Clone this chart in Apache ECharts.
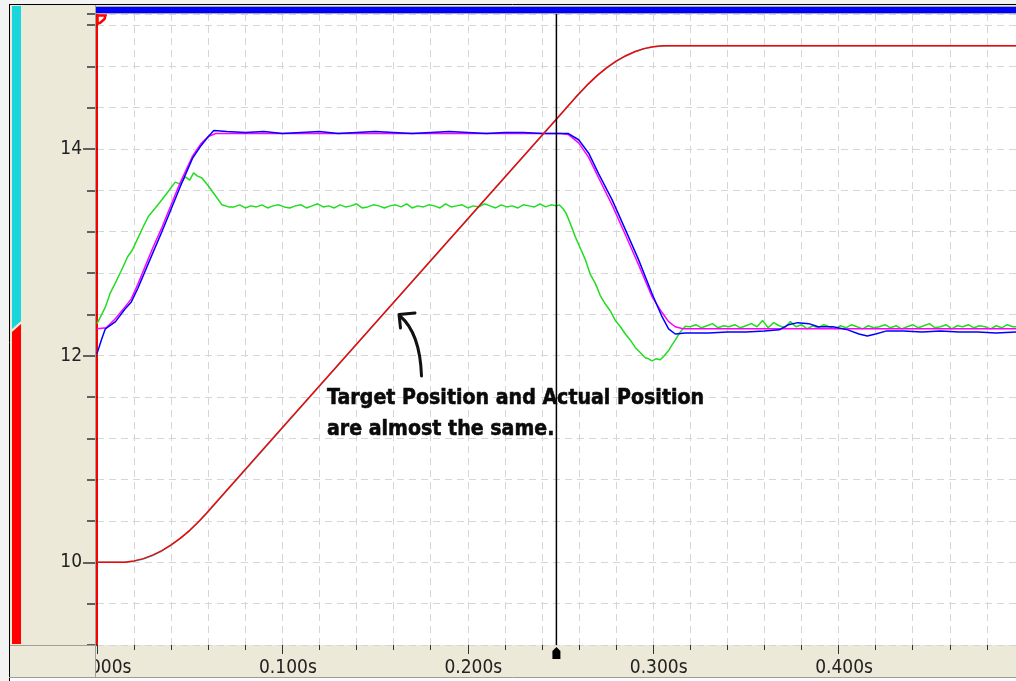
<!DOCTYPE html>
<html>
<head>
<meta charset="utf-8">
<script src="https://cdn.jsdelivr.net/npm/echarts@6/dist/echarts.min.js"></script>
<style>
  html, body { margin: 0; padding: 0; background: #f3f3f3; }
  #chart { width: 1016px; height: 681px; }
</style>
</head>
<body>
<div id="chart"></div>
<script>
// ---- axis labels ----
const xTickLabels = [0, 0.1, 0.2, 0.3, 0.4];
const yTickLabels = [10, 12, 14];
const cursorTime = 0.2478;

// ---- target position (red) ----
const targetT = [0, 0.010, 0.015, 0.020, 0.025, 0.030, 0.035, 0.040, 0.045, 0.050,
  0.055, 0.059, 0.100, 0.150, 0.200, 0.250, 0.2594, 0.265, 0.270, 0.275,
  0.280, 0.285, 0.290, 0.295, 0.300, 0.305, 0.310, 0.496];
const targetPos = [10.000, 10.000, 10.002, 10.014, 10.036, 10.070, 10.114, 10.169, 10.234, 10.310,
  10.398, 10.475, 11.305, 12.315, 13.325, 14.335, 14.525, 14.631, 14.715, 14.788,
  14.850, 14.901, 14.942, 14.972, 14.991, 14.999, 15.000, 15.000];
// ---- actual position (cyan), same sample times ----
const actualPos = [10.000, 10.000, 10.001, 10.010, 10.032, 10.066, 10.110, 10.166, 10.231, 10.306,
  10.394, 10.471, 11.300, 12.311, 13.321, 14.331, 14.522, 14.628, 14.712, 14.786,
  14.848, 14.900, 14.941, 14.971, 14.990, 14.998, 15.000, 15.000];

// ---- velocity command (magenta) ----
const cmdVelT = [0, 0.005, 0.010, 0.015, 0.0185, 0.022, 0.030, 0.035, 0.040, 0.045,
  0.0515, 0.056, 0.060, 0.064, 0.100, 0.150, 0.200, 0.250, 0.2543, 0.2598,
  0.2652, 0.2706, 0.2778, 0.2850, 0.2921, 0.2994, 0.3047, 0.3083, 0.3119, 0.316, 0.496];
const cmdVel = [12.26, 12.27, 12.36, 12.47, 12.55, 12.69, 13.04, 13.24, 13.46, 13.68,
  13.93, 14.05, 14.12, 14.15, 14.15, 14.15, 14.15, 14.15, 14.14, 14.06,
  13.92, 13.72, 13.46, 13.17, 12.88, 12.57, 12.42, 12.33, 12.28, 12.26, 12.26];

// ---- actual velocity (blue) ----
const actVelT = [0, 0.0025, 0.0045, 0.010, 0.015, 0.0185, 0.022, 0.030, 0.035, 0.040,
  0.045, 0.0515, 0.056, 0.060, 0.063, 0.070, 0.080, 0.090, 0.100, 0.110,
  0.120, 0.130, 0.140, 0.150, 0.160, 0.170, 0.180, 0.190, 0.200, 0.210,
  0.220, 0.230, 0.240, 0.250, 0.2543, 0.2598, 0.2652, 0.2706, 0.2778, 0.2850,
  0.2921, 0.2994, 0.3047, 0.3083, 0.3119, 0.3173, 0.320, 0.330, 0.340, 0.350,
  0.360, 0.368, 0.373, 0.378, 0.384, 0.389, 0.397, 0.405, 0.411, 0.4155,
  0.420, 0.426, 0.435, 0.445, 0.455, 0.465, 0.475, 0.485, 0.496];
const actVel = [12.02, 12.16, 12.26, 12.33, 12.45, 12.52, 12.65, 12.99, 13.20, 13.42,
  13.64, 13.91, 14.03, 14.12, 14.18, 14.17, 14.16, 14.17, 14.15, 14.16,
  14.17, 14.15, 14.16, 14.17, 14.16, 14.15, 14.16, 14.17, 14.16, 14.15,
  14.16, 14.16, 14.15, 14.15, 14.15, 14.09, 13.96, 13.76, 13.51, 13.22,
  12.93, 12.60, 12.38, 12.26, 12.21, 12.22, 12.22, 12.22, 12.23, 12.23,
  12.24, 12.25, 12.30, 12.32, 12.31, 12.28, 12.28, 12.25, 12.21, 12.19,
  12.21, 12.24, 12.24, 12.23, 12.24, 12.23, 12.23, 12.22, 12.23];

// ---- torque (green) ----
const torqueT = [
  0, 0.002, 0.0045, 0.007, 0.0098, 0.013, 0.0166, 0.019, 0.0224, 0.025,
  0.0278, 0.031, 0.035, 0.038, 0.0422, 0.045, 0.0476, 0.050, 0.0521, 0.054,
  0.0566, 0.0602, 0.0638, 0.0674, 0.071,
  0.074, 0.077, 0.080, 0.083, 0.086, 0.089, 0.092, 0.095, 0.098, 0.101,
  0.104, 0.107, 0.110, 0.113, 0.116, 0.119, 0.122, 0.125, 0.128, 0.131,
  0.134, 0.137, 0.140, 0.143, 0.146, 0.149, 0.152, 0.155, 0.158, 0.161,
  0.164, 0.167, 0.170, 0.173, 0.176, 0.179, 0.182, 0.185, 0.188, 0.191,
  0.194, 0.197, 0.200, 0.203, 0.206, 0.209, 0.212, 0.215, 0.218, 0.221,
  0.224, 0.227, 0.230, 0.233, 0.236, 0.239, 0.242, 0.245, 0.248,
  0.2493, 0.2515, 0.2530, 0.2555, 0.2580, 0.2605, 0.2634, 0.2660, 0.2688, 0.2715,
  0.2742, 0.2770, 0.2796, 0.2823, 0.2850, 0.2877, 0.2903, 0.2930, 0.2957, 0.2975,
  0.2994, 0.3015, 0.3038, 0.3060, 0.3083, 0.3100, 0.3119, 0.3146, 0.3173,
  0.320, 0.323, 0.326, 0.329, 0.332, 0.335, 0.338, 0.341, 0.344, 0.347,
  0.350, 0.353, 0.356, 0.359, 0.362, 0.365, 0.368, 0.371, 0.374, 0.377,
  0.380, 0.383, 0.386, 0.389, 0.392, 0.395, 0.398, 0.401, 0.404, 0.407,
  0.410, 0.413, 0.416, 0.419, 0.422, 0.425, 0.428, 0.431, 0.434, 0.437,
  0.440, 0.443, 0.446, 0.449, 0.452, 0.455, 0.458, 0.461, 0.464, 0.467,
  0.470, 0.473, 0.476, 0.479, 0.482, 0.485, 0.488, 0.491, 0.494, 0.496];
const torque = [
  12.31, 12.38, 12.47, 12.60, 12.70, 12.82, 12.96, 13.02, 13.15, 13.25,
  13.35, 13.42, 13.51, 13.58, 13.68, 13.66, 13.73, 13.70, 13.77, 13.74,
  13.72, 13.64, 13.55, 13.46, 13.44,
  13.44, 13.46, 13.43, 13.45, 13.44, 13.46, 13.43, 13.45, 13.46, 13.44,
  13.43, 13.45, 13.46, 13.43, 13.45, 13.47, 13.44, 13.45, 13.43, 13.46,
  13.44, 13.45, 13.47, 13.43, 13.44, 13.46, 13.45, 13.43, 13.45, 13.46,
  13.44, 13.47, 13.43, 13.45, 13.44, 13.46, 13.45, 13.43, 13.47, 13.44,
  13.45, 13.46, 13.43, 13.45, 13.44, 13.47, 13.45, 13.43, 13.46, 13.44,
  13.45, 13.43, 13.46, 13.45, 13.44, 13.47, 13.44, 13.46, 13.45,
  13.46, 13.42, 13.38, 13.27, 13.15, 13.05, 12.93, 12.79, 12.70, 12.58,
  12.50, 12.43, 12.34, 12.28, 12.21, 12.15, 12.08, 12.03, 11.98, 11.97,
  11.95, 11.97, 11.96, 12.00, 12.05, 12.10, 12.15, 12.23, 12.285,
  12.28, 12.30, 12.27, 12.29, 12.31, 12.27, 12.29, 12.28, 12.30, 12.27,
  12.29, 12.31, 12.28, 12.34, 12.27, 12.32, 12.29, 12.27, 12.33, 12.28,
  12.30, 12.26, 12.29, 12.27, 12.30, 12.28, 12.26, 12.29, 12.27, 12.30,
  12.28, 12.26, 12.29, 12.27, 12.28, 12.30, 12.27, 12.29, 12.26, 12.28,
  12.30, 12.27, 12.29, 12.31, 12.27, 12.28, 12.30, 12.26, 12.29, 12.28,
  12.30, 12.27, 12.29, 12.28, 12.26, 12.29, 12.27, 12.30, 12.28, 12.28];

const pairs = (t, v) => t.map((x, i) => [x, v[i]]);

const BEIGE = '#ece9d8';
const LABEL_FONT = "'DejaVu Sans Condensed', 'Liberation Sans Narrow', 'DejaVu Sans', sans-serif";
const Y_MIN = 9.2, Y_MAX = 15.307, X_MAX = 0.4957;

// the cursor is a vertical segment at cursorTime spanning the value range
const cursorT = [cursorTime, cursorTime];
const cursorSpan = [Y_MIN, Y_MAX];

const chart = echarts.init(document.getElementById('chart'), null, { renderer: 'canvas' });

function trace(name, t, v, color, z, width) {
  return {
    name, type: 'line', data: pairs(t, v), showSymbol: false, symbol: 'none',
    animation: false, z, lineStyle: { color, width: width || 1.5 }, silent: true
  };
}

const frameGraphics = [
  // outer frame
  { type: 'rect', shape: { x: 0, y: 0, width: 9, height: 681 }, style: { fill: '#f3f3f3' }, z: 5 },
  { type: 'rect', shape: { x: 0, y: 0, width: 1016, height: 4 }, style: { fill: '#f3f3f3' }, z: 5 },
  { type: 'line', shape: { x1: 9.5, y1: 4, x2: 9.5, y2: 681 }, style: { stroke: '#000', lineWidth: 1 }, z: 6 },
  { type: 'line', shape: { x1: 9, y1: 4.5, x2: 1016, y2: 4.5 }, style: { stroke: '#000', lineWidth: 1 }, z: 6 },
  // blue strip above plot
  { type: 'rect', shape: { x: 96, y: 6, width: 920, height: 8 }, style: { fill: '#a8a8a8' }, z: 5 },
  { type: 'rect', shape: { x: 96, y: 7, width: 920, height: 6 }, style: { fill: '#0000ff' }, z: 6 },
  // channel colour strips on the left panel
  { type: 'polygon', shape: { points: [[12, 6], [21, 6], [21, 321], [12, 329]] }, style: { fill: '#18d6dc' }, z: 5 },
  { type: 'polygon', shape: { points: [[12, 332], [21, 324], [21, 644], [12, 644]] }, style: { fill: '#ff0000' }, z: 5 },
  // panel separators
  { type: 'line', shape: { x1: 95.5, y1: 5, x2: 95.5, y2: 677 }, style: { stroke: '#a09f98', lineWidth: 1 }, z: 5 },
  // bottom-left cell (sits over the clipped first time label)
  { type: 'rect', shape: { x: 10, y: 645, width: 86, height: 32 }, style: { fill: BEIGE }, z: 20 },
  { type: 'line', shape: { x1: 10, y1: 645.5, x2: 96, y2: 645.5 }, style: { stroke: '#a09f98', lineWidth: 1 }, z: 21 },
  { type: 'line', shape: { x1: 95.5, y1: 645, x2: 95.5, y2: 677 }, style: { stroke: '#a09f98', lineWidth: 1 }, z: 21 },
  { type: 'line', shape: { x1: 9, y1: 677.5, x2: 1016, y2: 677.5 }, style: { stroke: '#9c9b94', lineWidth: 1 }, z: 21 },
  { type: 'rect', shape: { x: 10, y: 678, width: 1006, height: 3 }, style: { fill: '#ffffff' }, z: 21 },
  // trigger flag at top of the position trace
  { type: 'polyline', shape: { points: [[97.5, 25], [97.5, 15.5], [105.5, 15.5], [104.5, 19], [100, 23], [97.5, 23]] },
    style: { stroke: '#ff0000', lineWidth: 2.5, fill: null }, z: 30 },
  // annotation
  { type: 'text', x: 327, y: 398, scaleX: 0.865, z: 40,
    style: { text: 'Target Position and Actual Position', fontFamily: 'DejaVu Sans', fontWeight: 'bold',
             fontSize: 22, fill: '#0a0a0a', stroke: '#0a0a0a', lineWidth: 0.6,
             verticalAlign: 'middle', align: 'left' } },
  { type: 'text', x: 327, y: 429, scaleX: 0.865, z: 40,
    style: { text: 'are almost the same.', fontFamily: 'DejaVu Sans', fontWeight: 'bold',
             fontSize: 22, fill: '#0a0a0a', stroke: '#0a0a0a', lineWidth: 0.6,
             verticalAlign: 'middle', align: 'left' } },
  { type: 'bezierCurve', z: 40, shape: { x1: 421.5, y1: 376, x2: 400, y2: 316, cpx1: 420, cpy1: 333 },
    style: { stroke: '#111', lineWidth: 3, fill: null, lineCap: 'round' } },
  { type: 'polyline', z: 40, shape: { points: [[415, 313], [399, 314.5], [400.5, 328]] },
    style: { stroke: '#111', lineWidth: 3, fill: null, lineCap: 'round', lineJoin: 'round' } }
];

const option = {
  animation: false,
  backgroundColor: BEIGE,
  grid: {
    left: 97, right: 0, top: 14, bottom: 36,
    show: true, backgroundColor: '#ffffff', borderWidth: 0,
    containLabel: false, outerBoundsMode: 'none'
  },
  xAxis: [
    {
      type: 'value', min: 0, max: X_MAX, interval: 0.02,
      axisLine: { show: false },
      axisTick: { show: true, length: 5, lineStyle: { color: '#333', width: 1 } },
      axisLabel: {
        customValues: xTickLabels, margin: 14, fontFamily: LABEL_FONT, fontSize: 19, color: '#222',
        padding: [0, 0, 0, 11],
        formatter: v => v.toFixed(3) + 's'
      },
      splitLine: { show: true, lineStyle: { color: '#d6d6d6', width: 1, type: [7, 5] } }
    },
    {
      type: 'value', min: 0, max: X_MAX, position: 'bottom',
      axisLine: { show: false },
      axisTick: { show: true, customValues: xTickLabels, length: 9, lineStyle: { color: '#333', width: 1 } },
      axisLabel: { show: false },
      splitLine: { show: false }
    }
  ],
  yAxis: [
    {
      type: 'value', min: Y_MIN, max: Y_MAX, interval: 0.4,
      axisLine: { show: true, lineStyle: { color: '#ff0000', width: 2 } },
      axisTick: { show: true, length: 10, lineStyle: { color: '#333', width: 1.5 } },
      axisLabel: {
        customValues: yTickLabels, margin: 15, fontFamily: LABEL_FONT, fontSize: 19, color: '#222',
        formatter: v => String(Math.round(v))
      },
      splitLine: { show: true, lineStyle: { color: '#d6d6d6', width: 1, type: [7, 5] } }
    },
    {
      type: 'value', min: Y_MIN, max: Y_MAX, position: 'left',
      axisLine: { show: false },
      axisTick: { show: true, customValues: yTickLabels, length: 14, lineStyle: { color: '#333', width: 1.5 } },
      axisLabel: { show: false },
      splitLine: { show: false }
    }
  ],
  series: [
    trace('Torque', torqueT, torque, '#22dc22', 2),
    trace('Velocity Command', cmdVelT, cmdVel, '#ff00ff', 3),
    trace('Actual Velocity', actVelT, actVel, '#0000ff', 4),
    trace('Actual Position', targetT, actualPos, '#18d6dc', 5),
    trace('Target Position', targetT, targetPos, '#ff0000', 6),
    trace('Cursor', cursorT, cursorSpan, '#000000', 7, 1.5)
  ],
  graphic: frameGraphics
};

chart.setOption(option);

// cursor handle under the time axis
const base = chart.convertToPixel({ xAxisIndex: 0, yAxisIndex: 0 }, [cursorTime, Y_MIN]);
const cx = base[0], cy = base[1];
chart.setOption({
  graphic: frameGraphics.concat([{
    type: 'polygon', z: 40,
    shape: { points: [[cx, cy + 2], [cx + 4, cy + 6], [cx + 4, cy + 14], [cx - 4, cy + 14], [cx - 4, cy + 6]] },
    style: { fill: '#000' }
  }])
});
</script>
</body>
</html>
